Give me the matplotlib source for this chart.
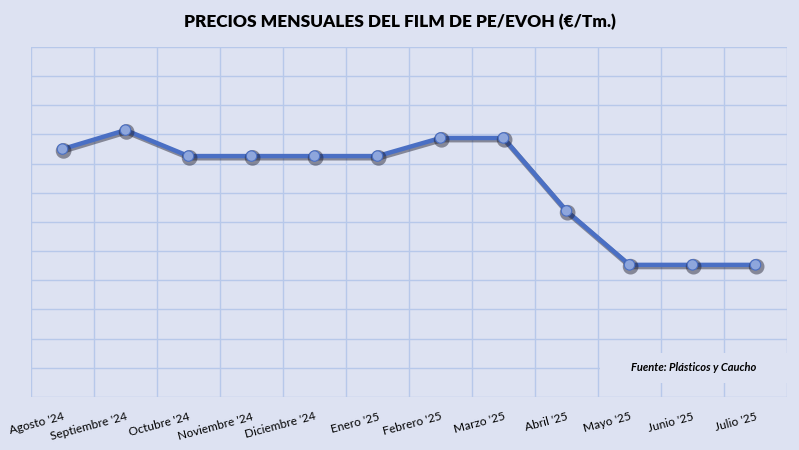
import matplotlib.pyplot as plt
import matplotlib.patheffects as pe
from matplotlib.patches import Rectangle
import numpy as np

plt.rcParams['font.family'] = ['Lato', 'DejaVu Sans']

months = ["Agosto '24", "Septiembre '24", "Octubre '24", "Noviembre '24",
          "Diciembre '24", "Enero '25", "Febrero '25", "Marzo '25",
          "Abril '25", "Mayo '25", "Junio '25", "Julio '25"]
# axis values are hidden in the original; read in grid units
prices = [8.50, 9.15, 8.26, 8.26, 8.26, 8.26, 8.88, 8.88, 6.38, 4.53, 4.53, 4.53]
y_min, y_max, y_step = 0, 12, 1

bg = '#dde2f2'
grid_col = '#b7c8ea'
line_col = '#4a6fc4'
marker_face = '#8ea6dc'

fig = plt.figure(figsize=(7.99, 4.5), dpi=100, facecolor=bg)
ax = fig.add_axes([0.0388, 0.1178, 0.9462, 0.7778], facecolor=bg)

x = np.arange(len(months))
ax.plot(x, prices, color=line_col, lw=3.2, marker='o', ms=7.5,
        mfc=marker_face, mec=line_col, mew=0.8, zorder=4,
        path_effects=[pe.SimpleLineShadow(offset=(0.8, -1.3), shadow_color='#1a1a2a',
                                          alpha=0.45, linewidth=3.8),
                      pe.Normal()])

ax.set_xlim(-0.5, len(months) - 0.5)
ax.set_ylim(y_min, y_max)
ax.set_xticks(x)
ax.set_xticklabels(months, rotation=15, ha='right', rotation_mode='anchor', fontsize=8.6)
ax.set_xticks(np.arange(-0.5, len(months)), minor=True)
ax.set_yticks(np.arange(y_min, y_max + y_step, y_step))
ax.set_yticklabels([])
ax.tick_params(axis='x', which='major', length=0, pad=10)
ax.tick_params(axis='both', which='minor', length=0)
ax.tick_params(axis='y', length=0)
ax.grid(True, axis='x', which='minor', color=grid_col, lw=1)
ax.grid(True, axis='y', which='major', color=grid_col, lw=1)
for s in ax.spines.values():
    s.set_visible(False)
ax.set_axisbelow(True)

box = Rectangle((0.753, 0.04), 0.247, 0.086, transform=ax.transAxes,
                facecolor=bg, edgecolor='none', zorder=2)
ax.add_patch(box)
ax.text(0.8765, 0.083, 'Fuente: Plásticos y Caucho', transform=ax.transAxes,
        ha='center', va='center', fontsize=8, fontweight='bold', style='italic', zorder=3)

fig.text(0.5, 0.951, 'PRECIOS MENSUALES DEL FILM DE PE/EVOH (€/Tm.)',
         ha='center', va='center', fontsize=12.4, fontweight='heavy')

fig.savefig('out.png', dpi=100, facecolor=bg)
